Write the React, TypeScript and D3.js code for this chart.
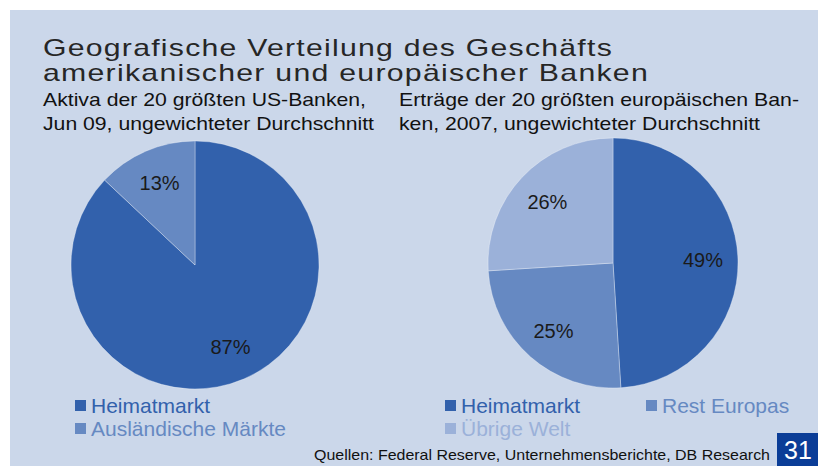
import React, { useEffect, useRef } from 'react';
import * as d3 from 'd3';

// Data
const usCategories = ['Heimatmarkt', 'Ausländische Märkte'];
const usValues = [87, 13];
const euCategories = ['Heimatmarkt', 'Rest Europas', 'Übrige Welt'];
const euValues = [49, 25, 26];
const sliceColors = ['#3261ac', '#6689c2', '#9bb1d9'];

const titleLines = [
  'Geografische Verteilung des Geschäfts',
  'amerikanischer und europäischer Banken'
];
const usSubtitle = ['Aktiva der 20 größten US-Banken,', 'Jun 09, ungewichteter Durchschnitt'];
const euSubtitle = ['Erträge der 20 größten europäischen Ban-', 'ken, 2007, ungewichteter Durchschnitt'];
const sourceText = 'Quellen: Federal Reserve, Unternehmensberichte, DB Research';
const pageNumber = '31';

const WIDTH = 818;
const HEIGHT = 466;
const FONT = 'Arial, "Liberation Sans", sans-serif';

const App: React.FC = () => {
  const svgRef = useRef<SVGSVGElement>(null);

  useEffect(() => {
    if (!svgRef.current) return;
    const svg = d3.select(svgRef.current);
    svg.selectAll('*').remove();

    // Background panel
    svg.append('rect').attr('width', WIDTH).attr('height', HEIGHT).attr('fill', '#ffffff');
    svg.append('rect')
      .attr('x', 10)
      .attr('y', 10)
      .attr('width', WIDTH - 10)
      .attr('height', HEIGHT - 10)
      .attr('fill', '#cbd7ea');

    // Title (wide, lightly spaced face)
    const titleWidths = [570, 606];
    titleLines.forEach((line, i) => {
      svg.append('text')
        .attr('x', 43)
        .attr('y', 56 + i * 25)
        .attr('font-family', FONT)
        .attr('font-size', 24)
        .attr('letter-spacing', 1)
        .attr('fill', '#262626')
        .attr('textLength', titleWidths[i])
        .attr('lengthAdjust', 'spacingAndGlyphs')
        .text(line);
    });

    // Subtitles
    const subWidths = [[323, 331], [400, 361]];
    [usSubtitle, euSubtitle].forEach((lines, j) => {
      lines.forEach((line, i) => {
        svg.append('text')
          .attr('x', j === 0 ? 43 : 399)
          .attr('y', 106 + i * 24)
          .attr('font-family', FONT)
          .attr('font-size', 19)
          .attr('fill', '#111')
          .attr('textLength', subWidths[j][i])
          .attr('lengthAdjust', 'spacingAndGlyphs')
          .text(line);
      });
    });

    const pie = d3.pie<number>().sort(null).value(d => d);

    const drawPie = (values: number[], cx: number, cy: number, r: number) => {
      const arc = d3.arc<d3.PieArcDatum<number>>().innerRadius(0).outerRadius(r);
      const labelArc = d3.arc<d3.PieArcDatum<number>>().innerRadius(r * 0.72).outerRadius(r * 0.72);
      const g = svg.append('g').attr('transform', `translate(${cx},${cy})`);
      const arcs = pie(values);
      g.selectAll('path')
        .data(arcs)
        .enter()
        .append('path')
        .attr('d', arc)
        .attr('fill', (_d, i) => sliceColors[i])
        .attr('stroke', 'rgba(255,255,255,0.45)')
        .attr('stroke-width', 0.7);
      g.selectAll('text')
        .data(arcs)
        .enter()
        .append('text')
        .attr('transform', d => `translate(${labelArc.centroid(d)})`)
        .attr('text-anchor', 'middle')
        .attr('dy', '0.36em')
        .attr('font-family', FONT)
        .attr('font-size', 20)
        .attr('fill', '#1a1a1a')
        .text(d => `${d.data}%`);
    };

    drawPie(usValues, 195, 265, 124);
    drawPie(euValues, 613, 263, 125);

    // Legends
    const legendItem = (label: string, color: string, x: number, y: number) => {
      svg.append('rect')
        .attr('x', x)
        .attr('y', y - 13)
        .attr('width', 11)
        .attr('height', 11)
        .attr('fill', color);
      svg.append('text')
        .attr('x', x + 16)
        .attr('y', y)
        .attr('font-family', FONT)
        .attr('font-size', 21)
        .attr('fill', color)
        .text(label);
    };
    usCategories.forEach((c, i) => legendItem(c, sliceColors[i], 75, 413 + i * 23));
    legendItem(euCategories[0], sliceColors[0], 445, 413);
    legendItem(euCategories[1], sliceColors[1], 646, 413);
    legendItem(euCategories[2], sliceColors[2], 445, 436);

    // Source
    svg.append('text')
      .attr('x', 314)
      .attr('y', 460)
      .attr('font-family', FONT)
      .attr('font-size', 15)
      .attr('fill', '#111')
      .attr('textLength', 456)
      .attr('lengthAdjust', 'spacingAndGlyphs')
      .text(sourceText);

    // Page number
    svg.append('rect')
      .attr('x', 777)
      .attr('y', 433)
      .attr('width', WIDTH - 777)
      .attr('height', HEIGHT - 433)
      .attr('fill', '#0b3d97');
    svg.append('text')
      .attr('x', 798)
      .attr('y', 459)
      .attr('text-anchor', 'middle')
      .attr('font-family', FONT)
      .attr('font-size', 25)
      .attr('fill', '#ffffff')
      .text(pageNumber);
  }, []);

  return (
    <svg
      ref={svgRef}
      width={WIDTH}
      height={HEIGHT}
      style={{ position: 'absolute', left: 0, top: 0, display: 'block' }}
    />
  );
};

export default App;
